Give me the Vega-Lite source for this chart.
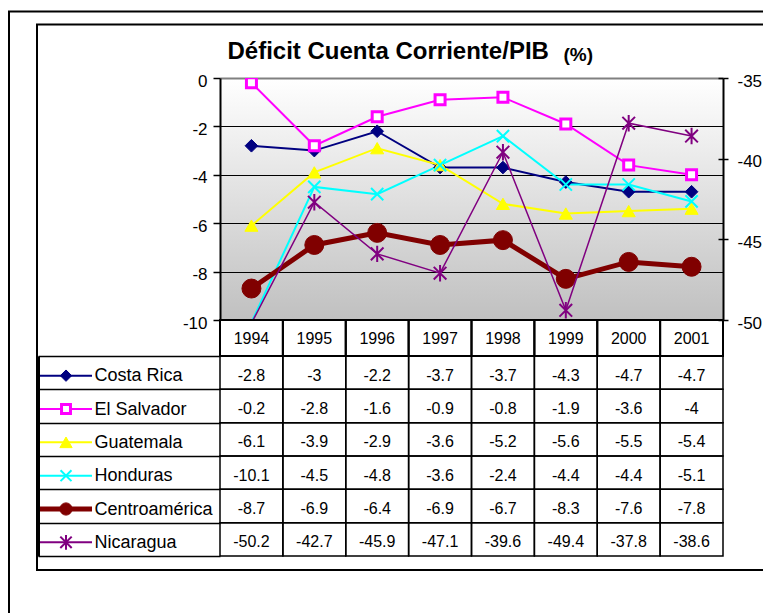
{
  "$schema": "https://vega.github.io/schema/vega-lite/v6.json",
  "width": 503,
  "height": 242,
  "autosize": {"type": "none"},
  "padding": {"left": 220, "top": 78, "right": 40, "bottom": 293},
  "background": "white",
  "view": {
    "stroke": null,
    "fill": {"gradient": "linear", "x1": 0, "y1": 0, "x2": 0, "y2": 1,
      "stops": [{"offset": 0, "color": "#ffffff"}, {"offset": 1, "color": "#c0c0c0"}]}
  },
  "config": {
    "locale": {"number": {"decimal": ".", "thousands": ",", "grouping": [3], "currency": ["$", ""], "minus": "-"}},
    "axis": {"labelFont": "Liberation Sans", "titleFont": "Liberation Sans"}
  },
  "datasets": {
    "datos": [
      {"serie": "Costa Rica", "anio": "1994", "valor": -2.8},
      {"serie": "Costa Rica", "anio": "1995", "valor": -3},
      {"serie": "Costa Rica", "anio": "1996", "valor": -2.2},
      {"serie": "Costa Rica", "anio": "1997", "valor": -3.7},
      {"serie": "Costa Rica", "anio": "1998", "valor": -3.7},
      {"serie": "Costa Rica", "anio": "1999", "valor": -4.3},
      {"serie": "Costa Rica", "anio": "2000", "valor": -4.7},
      {"serie": "Costa Rica", "anio": "2001", "valor": -4.7},
      {"serie": "El Salvador", "anio": "1994", "valor": -0.2},
      {"serie": "El Salvador", "anio": "1995", "valor": -2.8},
      {"serie": "El Salvador", "anio": "1996", "valor": -1.6},
      {"serie": "El Salvador", "anio": "1997", "valor": -0.9},
      {"serie": "El Salvador", "anio": "1998", "valor": -0.8},
      {"serie": "El Salvador", "anio": "1999", "valor": -1.9},
      {"serie": "El Salvador", "anio": "2000", "valor": -3.6},
      {"serie": "El Salvador", "anio": "2001", "valor": -4},
      {"serie": "Guatemala", "anio": "1994", "valor": -6.1},
      {"serie": "Guatemala", "anio": "1995", "valor": -3.9},
      {"serie": "Guatemala", "anio": "1996", "valor": -2.9},
      {"serie": "Guatemala", "anio": "1997", "valor": -3.6},
      {"serie": "Guatemala", "anio": "1998", "valor": -5.2},
      {"serie": "Guatemala", "anio": "1999", "valor": -5.6},
      {"serie": "Guatemala", "anio": "2000", "valor": -5.5},
      {"serie": "Guatemala", "anio": "2001", "valor": -5.4},
      {"serie": "Honduras", "anio": "1994", "valor": -10.1},
      {"serie": "Honduras", "anio": "1995", "valor": -4.5},
      {"serie": "Honduras", "anio": "1996", "valor": -4.8},
      {"serie": "Honduras", "anio": "1997", "valor": -3.6},
      {"serie": "Honduras", "anio": "1998", "valor": -2.4},
      {"serie": "Honduras", "anio": "1999", "valor": -4.4},
      {"serie": "Honduras", "anio": "2000", "valor": -4.4},
      {"serie": "Honduras", "anio": "2001", "valor": -5.1},
      {"serie": "Centroamérica", "anio": "1994", "valor": -8.7},
      {"serie": "Centroamérica", "anio": "1995", "valor": -6.9},
      {"serie": "Centroamérica", "anio": "1996", "valor": -6.4},
      {"serie": "Centroamérica", "anio": "1997", "valor": -6.9},
      {"serie": "Centroamérica", "anio": "1998", "valor": -6.7},
      {"serie": "Centroamérica", "anio": "1999", "valor": -8.3},
      {"serie": "Centroamérica", "anio": "2000", "valor": -7.6},
      {"serie": "Centroamérica", "anio": "2001", "valor": -7.8},
      {"serie": "Nicaragua", "anio": "1994", "valor": -50.2},
      {"serie": "Nicaragua", "anio": "1995", "valor": -42.7},
      {"serie": "Nicaragua", "anio": "1996", "valor": -45.9},
      {"serie": "Nicaragua", "anio": "1997", "valor": -47.1},
      {"serie": "Nicaragua", "anio": "1998", "valor": -39.6},
      {"serie": "Nicaragua", "anio": "1999", "valor": -49.4},
      {"serie": "Nicaragua", "anio": "2000", "valor": -37.8},
      {"serie": "Nicaragua", "anio": "2001", "valor": -38.6}
    ]
  },
  "resolve": {
    "scale": {"x": "independent", "y": "independent", "color": "independent", "fill": "independent", "stroke": "independent", "shape": "independent", "size": "independent", "strokeWidth": "independent"}
  },
  "layer": [
    {
      "data": {"name": "datos"},
      "transform": [{"filter": "datum.serie !== 'Nicaragua'"}],
      "mark": {"type": "line", "clip": true},
      "encoding": {
        "x": {"field": "anio", "type": "ordinal", "scale": {"type": "point", "domain": ["1994","1995","1996","1997","1998","1999","2000","2001"], "padding": 0.5}, "axis": null},
        "y": {"field": "valor", "type": "quantitative", "scale": {"domain": [-10, 0], "nice": false, "zero": false},
          "axis": {"orient": "left", "values": [0, -2, -4, -6, -8, -10], "title": null, "domainColor": "black", "domainWidth": 2,
            "tickColor": "black", "tickWidth": 1.5, "tickSize": 7, "labelFont": "Liberation Sans",
            "labelFontSize": 17, "labelColor": "black", "labelPadding": 6, "labelOffset": 3, "labelBound": false, "labelFlush": false, "labelOverlap": false,
            "grid": true,
            "gridColor": {"condition": {"test": "datum.value === 0", "value": "#808080"}, "value": "black"},
            "gridWidth": {"condition": {"test": "datum.value === 0", "value": 2}, "value": 1}}},
        "color": {"field": "serie", "type": "nominal", "scale": {"domain": ["Costa Rica","El Salvador","Guatemala","Honduras","Centroamérica"], "range": ["#000080","#ff00ff","#ffff00","#00ffff","#800000"]}, "legend": null},
        "strokeWidth": {"field": "serie", "type": "nominal", "scale": {"type": "ordinal", "domain": ["Costa Rica","El Salvador","Guatemala","Honduras","Centroamérica"], "range": [2, 2, 2, 2, 5]}, "legend": null}
      }
    },
    {
      "data": {"name": "datos"},
      "transform": [{"filter": "datum.serie !== 'Nicaragua' && datum.valor >= -10"}],
      "mark": {"type": "point", "clip": true, "opacity": 1},
      "encoding": {
        "x": {"field": "anio", "type": "ordinal", "scale": {"type": "point", "domain": ["1994","1995","1996","1997","1998","1999","2000","2001"], "padding": 0.5}, "axis": null},
        "y": {"field": "valor", "type": "quantitative", "scale": {"domain": [-10, 0], "nice": false, "zero": false}, "axis": null},
        "shape": {"field": "serie", "type": "nominal", "scale": {"domain": ["Costa Rica","El Salvador","Guatemala","Honduras","Centroamérica"], "range": ["diamond","square","triangle-up","M-1,-1L1,1M-1,1L1,-1","circle"]}, "legend": null},
        "size": {"field": "serie", "type": "nominal", "scale": {"type": "ordinal", "domain": ["Costa Rica","El Salvador","Guatemala","Honduras","Centroamérica"], "range": [160, 100, 170, 150, 360]}, "legend": null},
        "fill": {"field": "serie", "type": "nominal", "scale": {"domain": ["Costa Rica","El Salvador","Guatemala","Honduras","Centroamérica"], "range": ["#000080","#ffffff","#ffff00","transparent","#800000"]}, "legend": null},
        "stroke": {"field": "serie", "type": "nominal", "scale": {"domain": ["Costa Rica","El Salvador","Guatemala","Honduras","Centroamérica"], "range": ["#000080","#ff00ff","#ffff00","#00ffff","#800000"]}, "legend": null},
        "strokeWidth": {"field": "serie", "type": "nominal", "scale": {"type": "ordinal", "domain": ["Costa Rica","El Salvador","Guatemala","Honduras","Centroamérica"], "range": [1, 3, 1, 2, 1]}, "legend": null}
      }
    },
    {
      "data": {"name": "datos"},
      "transform": [{"filter": "datum.serie === 'Nicaragua'"}],
      "mark": {"type": "line", "clip": true, "color": "#800080", "strokeWidth": 1.5},
      "encoding": {
        "x": {"field": "anio", "type": "ordinal", "scale": {"type": "point", "domain": ["1994","1995","1996","1997","1998","1999","2000","2001"], "padding": 0.5}, "axis": null},
        "y": {"field": "valor", "type": "quantitative", "scale": {"domain": [-50, -35], "nice": false, "zero": false},
          "axis": {"orient": "right", "values": [-35, -40, -45, -50], "title": null, "domainColor": "black", "domainWidth": 2,
            "tickColor": "black", "tickWidth": 1.5, "tickSize": 5, "labelFont": "Liberation Sans",
            "labelFontSize": 17, "labelColor": "black", "labelPadding": 9, "labelOffset": 3, "labelBound": false, "labelFlush": false, "labelOverlap": false, "grid": false}}
      }
    },
    {
      "data": {"name": "datos"},
      "transform": [{"filter": "datum.serie === 'Nicaragua' && datum.valor >= -50"}],
      "mark": {"type": "point", "clip": true, "opacity": 1, "shape": "M-1,-1L1,1M-1,1L1,-1M0,-1.3L0,1.3", "size": 160, "stroke": "#800080", "strokeWidth": 2, "fill": "transparent"},
      "encoding": {
        "x": {"field": "anio", "type": "ordinal", "scale": {"type": "point", "domain": ["1994","1995","1996","1997","1998","1999","2000","2001"], "padding": 0.5}, "axis": null},
        "y": {"field": "valor", "type": "quantitative", "scale": {"domain": [-50, -35], "nice": false, "zero": false},
          "axis": {"orient": "right", "values": [-35, -40, -45, -50], "title": null, "domain": false, "labels": false, "grid": false,
            "tickColor": "black", "tickWidth": 1.5, "tickSize": -5}}
      }
    },
    {
      "data": {"name": "datos"},
      "transform": [{"filter": "datum.serie === 'Costa Rica'"}],
      "mark": {"type": "rect", "filled": false, "color": "black", "strokeWidth": 2},
      "encoding": {
        "x": {"field": "anio", "type": "nominal", "scale": {"type": "band", "domain": ["1994","1995","1996","1997","1998","1999","2000","2001"], "paddingInner": 0, "paddingOuter": 0},
          "axis": {"orient": "top", "domain": false, "ticks": false, "labels": false, "grid": false,
            "title": "Déficit Cuenta Corriente/PIB", "titleX": 7, "titleY": -20, "titleAlign": "left", "titleBaseline": "alphabetic",
            "titleFont": "Liberation Sans", "titleFontSize": 24, "titleFontWeight": "bold", "titleColor": "black"}},
        "y": {"datum": "hdr", "type": "nominal", "scale": {"type": "band", "domain": ["hdr"], "range": [242, 278], "paddingInner": 0, "paddingOuter": 0}, "axis": null}
      }
    },
    {
      "data": {"name": "datos"},
      "transform": [{"filter": "datum.serie === 'Costa Rica'"}],
      "mark": {"type": "text", "font": "Liberation Sans", "fontSize": 16, "color": "black", "baseline": "middle", "dy": 1},
      "encoding": {
        "x": {"field": "anio", "type": "nominal", "scale": {"type": "band", "domain": ["1994","1995","1996","1997","1998","1999","2000","2001"], "paddingInner": 0, "paddingOuter": 0},
          "axis": {"orient": "top", "domain": false, "ticks": false, "labels": false, "grid": false,
            "title": "(%)", "titleX": 343, "titleY": -18, "titleAlign": "left", "titleBaseline": "alphabetic",
            "titleFont": "Liberation Sans", "titleFontSize": 19, "titleFontWeight": "bold", "titleColor": "black"}},
        "y": {"datum": "hdr", "type": "nominal", "scale": {"type": "band", "domain": ["hdr"], "range": [242, 278], "paddingInner": 0, "paddingOuter": 0}, "axis": null},
        "text": {"field": "anio", "type": "nominal"}
      }
    },
    {
      "data": {"name": "datos"},
      "mark": {"type": "rect", "filled": false, "color": "black", "strokeWidth": 1.5},
      "encoding": {
        "x": {"field": "anio", "type": "nominal", "scale": {"type": "band", "domain": ["1994","1995","1996","1997","1998","1999","2000","2001"], "paddingInner": 0, "paddingOuter": 0}, "axis": null},
        "y": {"field": "serie", "type": "nominal", "scale": {"type": "band", "domain": ["Costa Rica","El Salvador","Guatemala","Honduras","Centroamérica","Nicaragua"], "range": [278, 478], "paddingInner": 0, "paddingOuter": 0},
          "axis": {"orient": "left", "title": null, "domain": false, "ticks": true, "tickBand": "extent", "tickSize": 182, "tickColor": "black", "tickWidth": 1.5,
            "grid": false, "labels": true, "labelAlign": "left", "labelPadding": -56, "labelFont": "Liberation Sans", "labelFontSize": 18,
            "labelColor": "black", "labelBaseline": "middle", "labelOffset": 3, "labelBound": false, "labelOverlap": false, "labelLimit": 400}}
      }
    },
    {
      "data": {"name": "datos"},
      "mark": {"type": "text", "font": "Liberation Sans", "fontSize": 16, "color": "black", "baseline": "middle", "dy": 3},
      "encoding": {
        "x": {"field": "anio", "type": "nominal", "scale": {"type": "band", "domain": ["1994","1995","1996","1997","1998","1999","2000","2001"], "paddingInner": 0, "paddingOuter": 0}, "axis": null},
        "y": {"field": "serie", "type": "nominal", "scale": {"type": "band", "domain": ["Costa Rica","El Salvador","Guatemala","Honduras","Centroamérica","Nicaragua"], "range": [278, 478], "paddingInner": 0, "paddingOuter": 0}, "axis": null},
        "text": {"field": "valor", "type": "quantitative", "format": ""}
      }
    },
    {
      "data": {"name": "datos"},
      "transform": [{"filter": "datum.anio === '1994'"}],
      "mark": {"type": "rule", "yOffset": 3},
      "encoding": {
        "x": {"datum": 0, "type": "quantitative", "scale": {"domain": [0, 1], "range": [-180, -128], "nice": false, "zero": false}, "axis": null},
        "x2": {"datum": 1},
        "y": {"field": "serie", "type": "nominal", "scale": {"type": "band", "domain": ["Costa Rica","El Salvador","Guatemala","Honduras","Centroamérica","Nicaragua"], "range": [278, 478], "paddingInner": 0, "paddingOuter": 0},
          "axis": {"orient": "left", "offset": 182, "title": null, "domain": true, "domainColor": "black", "domainWidth": 3, "ticks": false, "labels": false, "grid": false}},
        "color": {"field": "serie", "type": "nominal", "scale": {"domain": ["Costa Rica","El Salvador","Guatemala","Honduras","Centroamérica","Nicaragua"], "range": ["#000080","#ff00ff","#ffff00","#00ffff","#800000","#800080"]}, "legend": null},
        "strokeWidth": {"field": "serie", "type": "nominal", "scale": {"type": "ordinal", "domain": ["Costa Rica","El Salvador","Guatemala","Honduras","Centroamérica","Nicaragua"], "range": [2, 2, 2, 2, 5, 2]}, "legend": null}
      }
    },
    {
      "data": {"name": "datos"},
      "transform": [{"filter": "datum.anio === '1994'"}],
      "mark": {"type": "point", "opacity": 1, "yOffset": 3},
      "encoding": {
        "x": {"datum": 0.5, "type": "quantitative", "scale": {"domain": [0, 1], "range": [-180, -128], "nice": false, "zero": false}, "axis": null},
        "y": {"field": "serie", "type": "nominal", "scale": {"type": "band", "domain": ["Costa Rica","El Salvador","Guatemala","Honduras","Centroamérica","Nicaragua"], "range": [278, 478], "paddingInner": 0, "paddingOuter": 0}, "axis": null},
        "shape": {"field": "serie", "type": "nominal", "scale": {"domain": ["Costa Rica","El Salvador","Guatemala","Honduras","Centroamérica","Nicaragua"], "range": ["diamond","square","triangle-up","M-1,-1L1,1M-1,1L1,-1","circle","M-1,-1L1,1M-1,1L1,-1M0,-1.3L0,1.3"]}, "legend": null},
        "size": {"field": "serie", "type": "nominal", "scale": {"type": "ordinal", "domain": ["Costa Rica","El Salvador","Guatemala","Honduras","Centroamérica","Nicaragua"], "range": [130, 80, 150, 120, 150, 130]}, "legend": null},
        "fill": {"field": "serie", "type": "nominal", "scale": {"domain": ["Costa Rica","El Salvador","Guatemala","Honduras","Centroamérica","Nicaragua"], "range": ["#000080","#ffffff","#ffff00","transparent","#800000","transparent"]}, "legend": null},
        "stroke": {"field": "serie", "type": "nominal", "scale": {"domain": ["Costa Rica","El Salvador","Guatemala","Honduras","Centroamérica","Nicaragua"], "range": ["#000080","#ff00ff","#ffff00","#00ffff","#800000","#800080"]}, "legend": null},
        "strokeWidth": {"field": "serie", "type": "nominal", "scale": {"type": "ordinal", "domain": ["Costa Rica","El Salvador","Guatemala","Honduras","Centroamérica","Nicaragua"], "range": [1, 3, 1, 2, 1, 2]}, "legend": null}
      }
    },
    {
      "data": {"values": [{"marco": "exterior"}]},
      "mark": {"type": "rect", "filled": false, "color": "black", "strokeWidth": 2},
      "encoding": {
        "x": {"datum": 0, "type": "quantitative", "scale": {"domain": [0, 1], "range": [-211, 560], "nice": false, "zero": false}, "axis": null},
        "x2": {"datum": 1},
        "y": {"datum": 0, "type": "quantitative", "scale": {"domain": [0, 1], "range": [-66.5, 560], "nice": false, "zero": false}, "axis": null},
        "y2": {"datum": 1}
      }
    },
    {
      "data": {"values": [{"marco": "interior"}]},
      "mark": {"type": "rect", "filled": false, "color": "black", "strokeWidth": 2},
      "encoding": {
        "x": {"datum": 0, "type": "quantitative", "scale": {"domain": [0, 1], "range": [-183, 560], "nice": false, "zero": false}, "axis": null},
        "x2": {"datum": 1},
        "y": {"datum": 0, "type": "quantitative", "scale": {"domain": [0, 1], "range": [-53.5, 492], "nice": false, "zero": false}, "axis": null},
        "y2": {"datum": 1}
      }
    }
  ]
}
